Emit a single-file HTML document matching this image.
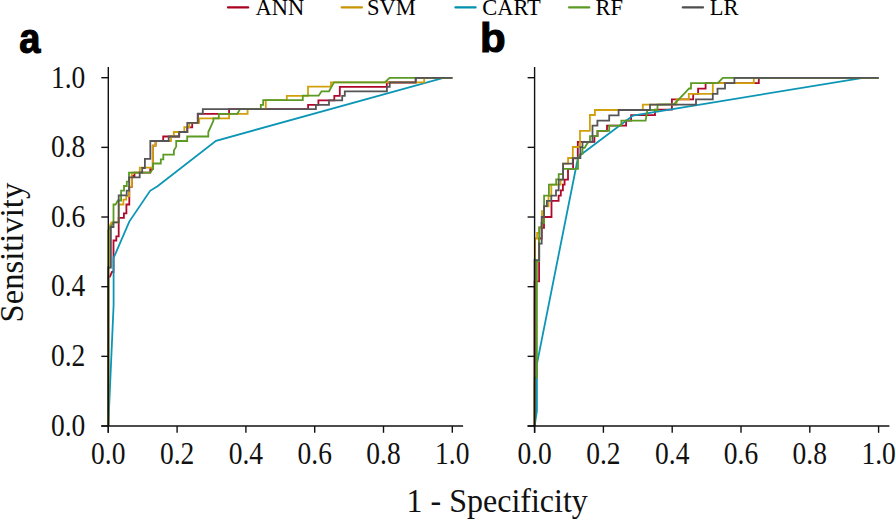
<!DOCTYPE html>
<html><head><meta charset="utf-8"><style>
html,body{margin:0;padding:0;background:#fff;width:896px;height:519px;overflow:hidden}
svg{display:block}
.tk{font-family:"Liberation Serif",serif;font-size:27.5px;fill:#111}
.lg{font-family:"Liberation Serif",serif;font-size:22.5px;fill:#000}
.ti{font-family:"Liberation Serif",serif;font-size:32px;fill:#111}
.pl{font-family:"Liberation Sans",sans-serif;font-size:40px;font-weight:bold;fill:#000;stroke:#000;stroke-width:1.1px}
</style></head><body>
<svg width="896" height="519" viewBox="0 0 896 519">
<line x1="228.0" y1="7.4" x2="248.2" y2="7.4" stroke="#a8001f" stroke-width="2.2" stroke-linecap="round"/>
<text transform="translate(255.6,14.8) scale(1,0.99)" class="lg">ANN</text>
<line x1="341.7" y1="7.4" x2="361.9" y2="7.4" stroke="#c99400" stroke-width="2.2" stroke-linecap="round"/>
<text transform="translate(367.0,14.8) scale(1,0.99)" class="lg">SVM</text>
<line x1="455.4" y1="7.4" x2="475.6" y2="7.4" stroke="#0090b0" stroke-width="2.2" stroke-linecap="round"/>
<text transform="translate(482.2,14.8) scale(1,0.99)" class="lg">CART</text>
<line x1="569.1" y1="7.4" x2="589.3" y2="7.4" stroke="#5a9a25" stroke-width="2.2" stroke-linecap="round"/>
<text transform="translate(595.6,14.8) scale(1,0.99)" class="lg">RF</text>
<line x1="682.8" y1="7.4" x2="703.0" y2="7.4" stroke="#4d4d4d" stroke-width="2.2" stroke-linecap="round"/>
<text transform="translate(709.8,14.8) scale(1,0.99)" class="lg">LR</text>
<text transform="translate(19.3,52.7) scale(0.95,1.04)" class="pl">a</text>
<text transform="translate(480.0,52.0) scale(1.05,0.995)" class="pl">b</text>
<polyline points="108.3,426.0 108.3,276.5 110.0,276.5 111.9,271.9 113.5,271.9 113.5,240.5 116.3,240.5 116.3,236.3 118.7,236.3 118.7,217.8 123.9,217.8 123.9,213.4 126.4,213.4 126.4,204.5 129.3,204.5 129.3,186.8 131.8,186.8 131.8,176.0 134.5,176.0 134.5,172.7 150.2,172.7 150.2,169.2 152.8,169.2 152.8,145.7 155.6,145.7 155.6,141.0 163.2,141.0 163.2,136.5 179.2,136.5 179.2,132.0 187.3,132.0 187.3,127.4 192.2,127.4 192.2,122.9 197.8,122.9 197.8,113.8 229.1,113.8 229.1,109.2 308.1,109.2 308.1,104.8 318.4,104.8 318.4,100.4 334.3,100.4 334.3,95.8 339.8,95.8 339.8,86.8 386.8,86.8 386.8,82.5 415.7,82.5 415.7,77.8 452.3,77.8" fill="none" stroke="#b0072c" stroke-width="1.8" stroke-linejoin="miter"/>
<polyline points="108.3,426.0 113.6,305.0 113.6,258.0 129.3,221.6 150.1,190.8 157.5,186.3 216.0,140.8 443.4,77.8 452.3,77.8" fill="none" stroke="#0c96b6" stroke-width="1.8" stroke-linejoin="miter"/>
<polyline points="108.3,426.0 108.4,420.0 108.4,268.0 109.3,268.0 109.3,226.8 111.4,222.4 118.7,222.4 118.7,204.5 123.4,204.5 123.4,199.7 126.2,199.7 126.2,196.2 129.2,196.2 129.2,186.6 131.8,186.6 131.8,172.6 139.8,172.6 139.8,167.7 152.8,167.7 152.8,145.7 155.6,145.7 155.6,141.0 171.0,141.0 171.0,136.5 173.8,136.5 173.8,132.0 184.3,132.0 184.3,127.2 189.3,127.2 189.3,122.9 199.2,122.9 199.2,118.4 229.1,118.4 229.1,113.9 247.6,113.9 247.6,109.2 265.8,109.2 265.8,100.1 286.8,100.1 286.8,95.8 308.0,95.8 308.0,86.6 330.9,86.6 330.9,82.3 424.2,82.3 424.2,77.8 452.3,77.8" fill="none" stroke="#d2a00a" stroke-width="1.8" stroke-linejoin="miter"/>
<polyline points="108.3,426.0 108.4,420.0 108.4,230.0 113.5,222.4 113.5,204.5 115.6,204.5 117.9,200.5 121.1,200.5 121.1,190.6 124.0,190.6 124.0,186.0 126.8,186.0 126.8,181.7 129.0,181.7 129.0,172.7 150.4,172.7 153.0,168.5 153.0,163.5 160.8,163.5 160.8,159.4 163.3,159.4 163.3,154.6 173.9,154.6 173.9,150.4 176.2,146.6 176.2,141.0 187.2,141.0 187.2,136.5 208.3,136.5 208.3,132.0 213.4,120.9 213.4,118.4 218.8,118.4 218.8,113.8 237.3,113.8 239.5,110.1 239.5,109.2 260.8,109.2 260.8,104.8 263.2,104.8 263.2,100.1 302.8,100.1 302.8,95.7 318.7,95.7 321.5,91.3 329.0,91.3 334.0,82.3 384.7,82.3 389.6,77.8 452.3,77.8" fill="none" stroke="#5a9a25" stroke-width="1.8" stroke-linejoin="miter"/>
<polyline points="108.3,426.0 108.3,267.5 110.9,267.5 110.9,227.0 113.5,227.0 113.5,222.4 118.7,222.4 118.7,195.3 126.7,195.3 126.7,190.6 129.1,190.6 129.1,177.3 139.7,177.3 139.7,172.5 142.2,172.5 142.2,168.0 144.9,168.0 144.9,158.9 150.3,158.9 150.3,141.0 168.7,141.0 168.7,136.5 179.2,136.5 179.2,132.0 187.3,132.0 187.3,122.9 197.8,122.9 197.8,113.6 202.8,113.6 202.8,109.2 315.9,109.2 315.9,104.8 329.0,104.8 329.0,100.4 342.2,100.4 342.2,95.8 344.8,95.8 344.8,91.4 386.9,91.4 386.9,86.8 389.7,86.8 389.7,82.3 415.7,82.3 415.7,77.8 452.3,77.8" fill="none" stroke="#555557" stroke-width="1.8" stroke-linejoin="miter"/>
<polyline points="534.6,426.0 534.6,281.3 539.1,281.3 539.1,238.5 541.7,238.5 541.7,227.8 544.0,227.8 544.0,217.0 551.5,217.0 551.5,200.9 558.6,200.9 558.6,195.6 560.8,195.6 560.8,190.3 562.9,190.3 562.9,184.7 564.6,184.7 564.6,179.7 568.0,179.7 568.0,168.8 573.1,168.8 573.1,158.3 577.8,158.3 577.8,141.9 594.4,141.9 594.4,136.2 597.5,136.2 597.5,130.9 607.0,130.9 607.0,125.6 626.1,125.6 626.1,120.6 631.1,120.6 631.1,115.2 655.0,115.2 655.0,109.7 671.9,109.7 671.9,99.3 693.2,99.3 693.2,93.9 698.1,93.9 698.1,88.7 705.6,88.7 705.6,83.1 758.8,83.1 758.8,77.8 878.6,77.8" fill="none" stroke="#b0072c" stroke-width="1.8" stroke-linejoin="miter"/>
<polyline points="534.6,426.0 536.9,410.9 536.9,364.0 578.0,157.5 580.8,154.8 633.0,115.6 862.9,77.8 878.6,77.8" fill="none" stroke="#0c96b6" stroke-width="1.8" stroke-linejoin="miter"/>
<polyline points="534.6,426.0 534.7,420.0 534.7,300.0 535.1,300.0 535.1,238.5 537.1,238.5 537.1,233.0 539.3,233.0 539.3,227.5 542.0,227.5 542.0,211.2 544.1,211.2 544.1,206.4 548.5,206.4 548.5,196.2 551.3,196.2 551.3,184.7 560.6,184.7 560.6,179.7 563.1,179.7 563.1,163.6 568.1,163.6 568.1,158.0 572.8,158.0 572.8,147.0 580.0,147.0 580.0,130.9 589.9,130.9 589.9,115.0 594.9,115.0 594.9,110.0 642.8,110.0 642.8,104.7 676.5,104.7 676.5,99.3 688.8,99.3 688.8,93.8 712.8,93.8 712.8,83.1 753.8,83.1 753.8,77.8 878.6,77.8" fill="none" stroke="#d2a00a" stroke-width="1.8" stroke-linejoin="miter"/>
<polyline points="534.6,426.0 534.6,377.7 536.9,377.7 536.9,261.0 539.2,261.0 539.2,227.5 541.5,227.5 541.5,222.8 544.1,222.8 544.1,195.6 548.9,195.6 548.9,184.7 556.2,184.7 556.2,179.4 558.7,179.4 558.7,174.1 563.0,174.1 563.0,168.8 578.0,168.8 578.0,159.0 580.6,153.7 582.5,153.7 582.5,147.8 584.7,147.8 587.5,143.0 590.0,141.9 590.0,136.2 597.5,136.2 597.5,130.9 609.2,130.9 609.2,125.6 621.4,125.6 621.4,120.6 645.6,120.6 647.2,111.2 647.2,110.0 657.5,110.0 657.5,104.7 674.0,104.2 682.6,95.3 689.1,88.5 691.0,88.5 691.0,83.1 717.8,83.1 722.8,77.8 878.6,77.8" fill="none" stroke="#5a9a25" stroke-width="1.8" stroke-linejoin="miter"/>
<polyline points="534.6,426.0 534.6,260.2 539.2,260.2 539.2,243.6 541.7,243.6 541.7,217.0 544.1,217.0 544.1,206.2 546.9,206.2 546.9,200.9 551.3,200.9 551.3,195.6 556.0,195.6 556.0,190.3 558.7,190.3 558.7,179.7 563.1,179.7 563.1,163.6 572.8,163.6 572.8,158.2 580.4,158.2 580.4,147.1 582.5,147.1 582.5,141.9 592.5,141.9 592.5,125.6 597.4,125.6 597.4,120.6 609.2,120.6 609.2,115.3 618.6,115.3 618.6,110.0 650.0,110.0 650.0,104.7 696.0,104.7 696.0,99.3 712.8,99.3 712.8,93.9 717.5,93.9 717.5,88.7 725.0,88.7 725.0,83.1 734.4,83.1 734.4,77.8 878.6,77.8" fill="none" stroke="#555557" stroke-width="1.8" stroke-linejoin="miter"/>
<line x1="108.3" y1="67" x2="108.3" y2="432.8" stroke="#111" stroke-width="1.4"/>
<line x1="101.3" y1="426.0" x2="463.1" y2="426.0" stroke="#111" stroke-width="1.4"/>
<line x1="101.3" y1="426.00" x2="108.3" y2="426.00" stroke="#111" stroke-width="1.4"/>
<line x1="108.30" y1="426.0" x2="108.30" y2="432.8" stroke="#111" stroke-width="1.4"/>
<text transform="translate(108.30,463.5) scale(1,1.14)" text-anchor="middle" class="tk">0.0</text>
<text transform="translate(85.3,435.80) scale(1,1.14)" text-anchor="end" class="tk">0.0</text>
<line x1="101.3" y1="356.34" x2="108.3" y2="356.34" stroke="#111" stroke-width="1.4"/>
<line x1="177.10" y1="426.0" x2="177.10" y2="432.8" stroke="#111" stroke-width="1.4"/>
<text transform="translate(177.10,463.5) scale(1,1.14)" text-anchor="middle" class="tk">0.2</text>
<text transform="translate(85.3,366.14) scale(1,1.14)" text-anchor="end" class="tk">0.2</text>
<line x1="101.3" y1="286.68" x2="108.3" y2="286.68" stroke="#111" stroke-width="1.4"/>
<line x1="245.90" y1="426.0" x2="245.90" y2="432.8" stroke="#111" stroke-width="1.4"/>
<text transform="translate(245.90,463.5) scale(1,1.14)" text-anchor="middle" class="tk">0.4</text>
<text transform="translate(85.3,296.48) scale(1,1.14)" text-anchor="end" class="tk">0.4</text>
<line x1="101.3" y1="217.02" x2="108.3" y2="217.02" stroke="#111" stroke-width="1.4"/>
<line x1="314.70" y1="426.0" x2="314.70" y2="432.8" stroke="#111" stroke-width="1.4"/>
<text transform="translate(314.70,463.5) scale(1,1.14)" text-anchor="middle" class="tk">0.6</text>
<text transform="translate(85.3,226.82) scale(1,1.14)" text-anchor="end" class="tk">0.6</text>
<line x1="101.3" y1="147.36" x2="108.3" y2="147.36" stroke="#111" stroke-width="1.4"/>
<line x1="383.50" y1="426.0" x2="383.50" y2="432.8" stroke="#111" stroke-width="1.4"/>
<text transform="translate(383.50,463.5) scale(1,1.14)" text-anchor="middle" class="tk">0.8</text>
<text transform="translate(85.3,157.16) scale(1,1.14)" text-anchor="end" class="tk">0.8</text>
<line x1="101.3" y1="77.70" x2="108.3" y2="77.70" stroke="#111" stroke-width="1.4"/>
<line x1="452.30" y1="426.0" x2="452.30" y2="432.8" stroke="#111" stroke-width="1.4"/>
<text transform="translate(452.30,463.5) scale(1,1.14)" text-anchor="middle" class="tk">1.0</text>
<text transform="translate(85.3,87.50) scale(1,1.14)" text-anchor="end" class="tk">1.0</text>
<line x1="534.6" y1="67" x2="534.6" y2="432.8" stroke="#111" stroke-width="1.4"/>
<line x1="527.6" y1="426.0" x2="889.4000000000001" y2="426.0" stroke="#111" stroke-width="1.4"/>
<line x1="527.6" y1="426.00" x2="534.6" y2="426.00" stroke="#111" stroke-width="1.4"/>
<line x1="534.60" y1="426.0" x2="534.60" y2="432.8" stroke="#111" stroke-width="1.4"/>
<text transform="translate(534.60,463.5) scale(1,1.14)" text-anchor="middle" class="tk">0.0</text>
<line x1="527.6" y1="356.34" x2="534.6" y2="356.34" stroke="#111" stroke-width="1.4"/>
<line x1="603.40" y1="426.0" x2="603.40" y2="432.8" stroke="#111" stroke-width="1.4"/>
<text transform="translate(603.40,463.5) scale(1,1.14)" text-anchor="middle" class="tk">0.2</text>
<line x1="527.6" y1="286.68" x2="534.6" y2="286.68" stroke="#111" stroke-width="1.4"/>
<line x1="672.20" y1="426.0" x2="672.20" y2="432.8" stroke="#111" stroke-width="1.4"/>
<text transform="translate(672.20,463.5) scale(1,1.14)" text-anchor="middle" class="tk">0.4</text>
<line x1="527.6" y1="217.02" x2="534.6" y2="217.02" stroke="#111" stroke-width="1.4"/>
<line x1="741.00" y1="426.0" x2="741.00" y2="432.8" stroke="#111" stroke-width="1.4"/>
<text transform="translate(741.00,463.5) scale(1,1.14)" text-anchor="middle" class="tk">0.6</text>
<line x1="527.6" y1="147.36" x2="534.6" y2="147.36" stroke="#111" stroke-width="1.4"/>
<line x1="809.80" y1="426.0" x2="809.80" y2="432.8" stroke="#111" stroke-width="1.4"/>
<text transform="translate(809.80,463.5) scale(1,1.14)" text-anchor="middle" class="tk">0.8</text>
<line x1="527.6" y1="77.70" x2="534.6" y2="77.70" stroke="#111" stroke-width="1.4"/>
<line x1="878.60" y1="426.0" x2="878.60" y2="432.8" stroke="#111" stroke-width="1.4"/>
<text transform="translate(878.60,463.5) scale(1,1.14)" text-anchor="middle" class="tk">1.0</text>
<text transform="translate(23.2,252.6) rotate(-90) scale(1.02,1.07)" text-anchor="middle" class="ti">Sensitivity</text>
<text transform="translate(497.2,512.2) scale(1,1.06)" text-anchor="middle" class="ti">1 - Specificity</text>
</svg>
</body></html>
